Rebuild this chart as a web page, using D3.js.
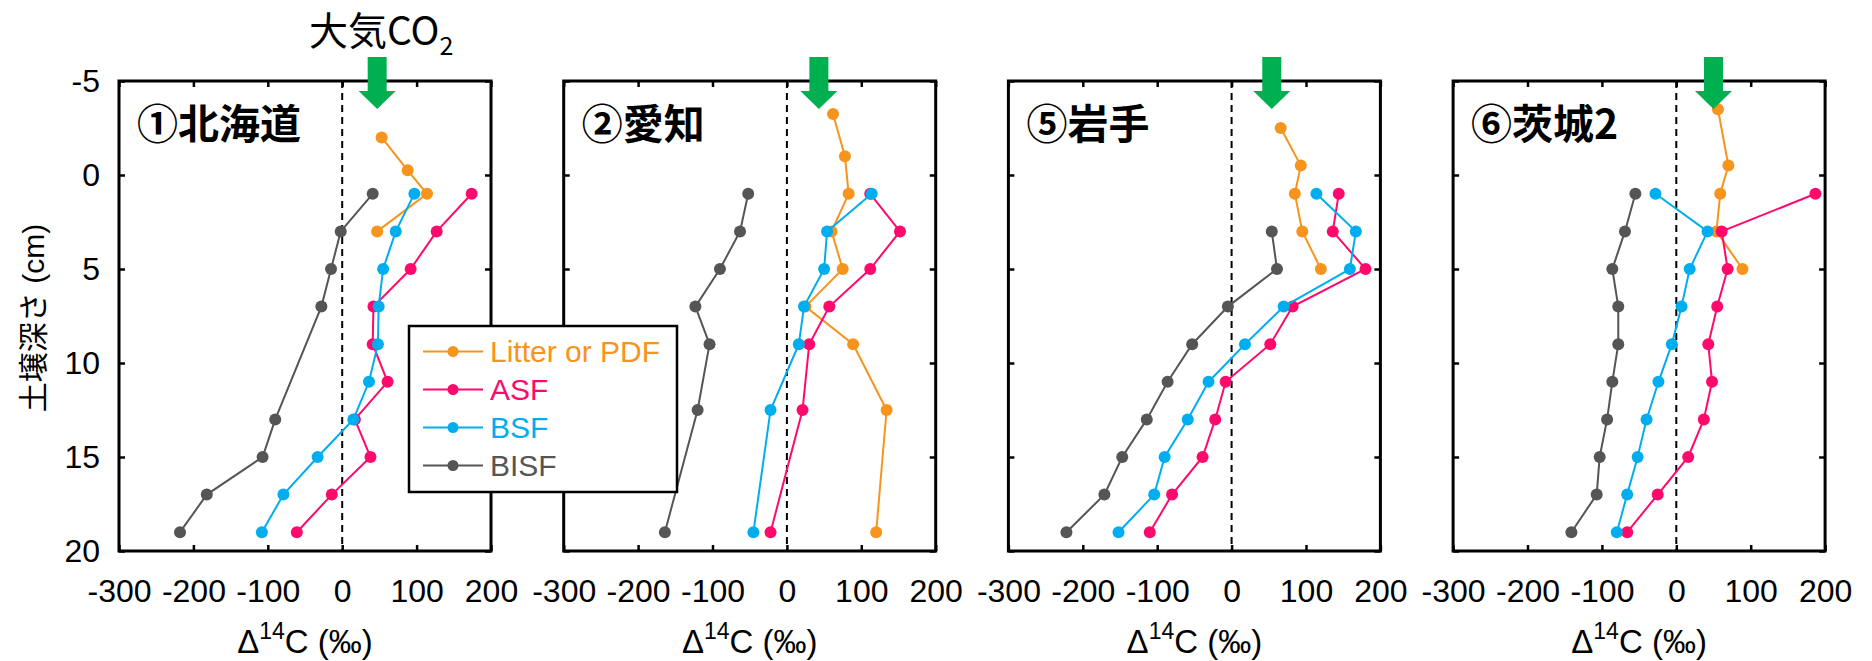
<!DOCTYPE html>
<html>
<head>
<meta charset="utf-8">
<script src="https://cdn.jsdelivr.net/npm/d3@7"></script>
<style>
  html, body { margin: 0; padding: 0; background: #fff; }
  svg { display: block; }
</style>
</head>
<body>
<svg id="chart" width="1872" height="661"></svg>
<script>
// Soil Δ14C depth profiles for four sites, by density fraction.
const sites = ["①北海道", "②愛知", "⑤岩手", "⑥茨城2"];
const atmosphereD14C = [47, 43, 54, 50];   // atmospheric CO2 Δ14C marked by the green arrow

const seriesNames = ["Litter or PDF", "ASF", "BSF", "BISF"];
const seriesColors = ["#F7941D", "#FF0A6C", "#00AEEF", "#555555"];

const xTicks = [-300, -200, -100, 0, 100, 200];
const yTicks = [-5, 0, 5, 10, 15, 20];

// Litter / particulate density fraction (depth in cm, negative = above mineral soil)
const litterDepth = [
  [-2, -0.25, 1, 3],
  [-3.25, -1, 1, 3, 5, 7, 9, 12.5, 19],
  [-2.5, -0.5, 1, 3, 5],
  [-3.5, -0.5, 1, 3, 5]
];
const litterD14C = [
  [53, 88, 114, 47],
  [62, 78, 83, 60, 75, 25, 89, 134, 120],
  [66, 93, 85, 95, 120],
  [56, 70, 59, 54, 89]
];

// Mineral soil layers sampled for ASF and BSF
const mineralDepth = [
  [1, 3, 5, 7, 9, 11, 13, 15, 17, 19],
  [1, 3, 5, 7, 9, 12.5, 19],
  [1, 3, 5, 7, 9, 11, 13, 15, 17, 19],
  [1, 3, 5, 7, 9, 11, 13, 15, 17, 19]
];
const asfD14C = [
  [174, 127, 92, 42, 41, 61, 17, 38, -14, -61],
  [112, 152, 112, 57, 30, 21, -22],
  [144, 136, 180, 82, 52, -8, -22, -39, -80, -110],
  [187, 61, 69, 55, 43, 48, 37, 16, -25, -66]
];
const bsfD14C = [
  [97, 72, 55, 49, 48, 36, 15, -33, -79, -108],
  [114, 54, 50, 23, 16, -22, -45],
  [114, 167, 159, 70, 18, -31, -59, -90, -104, -152],
  [-28, 42, 18, 7, -6, -24, -40, -52, -66, -80]
];

// BISF layers (not every layer was measured)
const bisfDepth = [
  [1, 3, 5, 7, 13, 15, 17, 19],
  [1, 3, 5, 7, 9, 12.5, 19],
  [3, 5, 7, 9, 11, 13, 15, 17, 19],
  [1, 3, 5, 7, 9, 11, 13, 15, 17, 19]
];
const bisfD14C = [
  [41, -2, -15, -28, -90, -107, -182, -218],
  [-52, -63, -90, -123, -104, -120, -164],
  [54, 61, -5, -53, -86, -114, -147, -171, -222],
  [-55, -69, -86, -78, -78, -86, -93, -103, -107, -141]
];

// ---- layout ----
const svg = d3.select("#chart");
const panelLeft0 = 119, panelStep = 444.7, panelW = 372;
const plotTop = 81, plotBottom = 551;
const latin = "'Liberation Sans', Arial, 'Noto Sans CJK JP', sans-serif";
const cjk = "'Noto Sans CJK JP', 'Liberation Sans', sans-serif";

const y = d3.scaleLinear().domain([-5, 20]).range([plotTop, plotBottom]);
const fmt = d => String(d);   // plain hyphen for negatives

sites.forEach((site, i) => {
  const left = panelLeft0 + i * panelStep;
  const x = d3.scaleLinear().domain([-300, 200]).range([left, left + panelW]);
  const g = svg.append("g");

  // zero line
  g.append("line")
    .attr("x1", x(0)).attr("x2", x(0))
    .attr("y1", plotTop).attr("y2", plotBottom)
    .attr("stroke", "#000").attr("stroke-width", 2)
    .attr("stroke-dasharray", "7,5");

  // axes with inward ticks
  const bottomAxis = d3.axisBottom(x).tickValues(xTicks).tickFormat(fmt)
    .tickSizeInner(-6).tickSizeOuter(0).tickPadding(28);
  const topAxis = d3.axisTop(x).tickValues(xTicks).tickFormat("")
    .tickSizeInner(-6).tickSizeOuter(0);
  const leftAxis = d3.axisLeft(y).tickValues(yTicks)
    .tickFormat(i === 0 ? fmt : "")
    .tickSizeInner(-6).tickSizeOuter(0).tickPadding(19);
  const rightAxis = d3.axisRight(y).tickValues(yTicks).tickFormat("")
    .tickSizeInner(-6).tickSizeOuter(0);

  const axes = [
    g.append("g").attr("transform", `translate(0,${plotBottom})`).call(bottomAxis),
    g.append("g").attr("transform", `translate(0,${plotTop})`).call(topAxis),
    g.append("g").attr("transform", `translate(${left},0)`).call(leftAxis),
    g.append("g").attr("transform", `translate(${left + panelW},0)`).call(rightAxis)
  ];
  axes.forEach(a => {
    a.select(".domain").remove();
    a.selectAll(".tick line").attr("stroke", "#000").attr("stroke-width", 2.5);
    a.selectAll(".tick text")
      .attr("fill", "#000")
      .style("font-family", latin)
      .style("font-size", "32px");
  });

  // frame
  g.append("rect")
    .attr("x", left).attr("y", plotTop)
    .attr("width", panelW).attr("height", plotBottom - plotTop)
    .attr("fill", "none").attr("stroke", "#000").attr("stroke-width", 3);

  // series
  const series = [
    { depth: litterDepth[i], val: litterD14C[i], color: seriesColors[0] },
    { depth: mineralDepth[i], val: asfD14C[i], color: seriesColors[1] },
    { depth: mineralDepth[i], val: bsfD14C[i], color: seriesColors[2] },
    { depth: bisfDepth[i], val: bisfD14C[i], color: seriesColors[3] }
  ];
  const line = d3.line().x(d => x(d[1])).y(d => y(d[0]));
  series.forEach(s => {
    const pts = s.depth.map((d, k) => [d, s.val[k]]);
    g.append("path").datum(pts)
      .attr("d", line)
      .attr("fill", "none")
      .attr("stroke", s.color)
      .attr("stroke-width", 2);
    g.selectAll(null).data(pts).enter().append("circle")
      .attr("cx", d => x(d[1])).attr("cy", d => y(d[0]))
      .attr("r", 6).attr("fill", s.color);
  });

  // site title
  g.append("text")
    .attr("x", left + 18).attr("y", plotTop + 40)
    .attr("dominant-baseline", "central")
    .style("font-family", cjk)
    .style("font-size", "41px")
    .style("font-weight", "bold")
    .attr("fill", "#000")
    .text(site);

  // atmospheric CO2 arrow
  const ax = x(atmosphereD14C[i]);
  const arrow = [
    [ax - 9.5, plotTop - 24], [ax + 9.5, plotTop - 24], [ax + 9.5, plotTop + 10],
    [ax + 18.5, plotTop + 10], [ax, plotTop + 28], [ax - 18.5, plotTop + 10],
    [ax - 9.5, plotTop + 10]
  ];
  g.append("polygon")
    .attr("points", arrow.map(p => p.join(",")).join(" "))
    .attr("fill", "#00B050");

  if (i === 0) {
    const lbl = g.append("text")
      .attr("x", ax + 4).attr("y", 45)
      .attr("text-anchor", "middle")
      .style("font-family", cjk)
      .style("font-size", "39px")
      .attr("fill", "#000");
    lbl.append("tspan").text("大気CO");
    lbl.append("tspan").attr("dy", 10).style("font-size", "25px").text("2");
  }

  // x axis title
  const xt = g.append("text")
    .attr("x", left + panelW / 2).attr("y", 653)
    .attr("text-anchor", "middle")
    .style("font-family", latin)
    .style("font-size", "33px")
    .attr("fill", "#000");
  xt.append("tspan").text("Δ");
  xt.append("tspan").attr("dy", -14).style("font-size", "23px").text("14");
  xt.append("tspan").attr("dy", 14).text("C (‰)");
});

// y axis title
svg.append("text")
  .attr("transform", "translate(33,318) rotate(-90)")
  .attr("text-anchor", "middle")
  .attr("dominant-baseline", "central")
  .style("font-family", latin)
  .style("font-size", "30px")
  .attr("fill", "#000")
  .text("土壌深さ (cm)");

// legend
const leg = svg.append("g");
leg.append("rect")
  .attr("x", 409).attr("y", 326).attr("width", 268).attr("height", 166)
  .attr("fill", "#fff").attr("stroke", "#000").attr("stroke-width", 2.5);
seriesNames.forEach((name, k) => {
  const cy = 351.5 + k * 38;
  leg.append("line")
    .attr("x1", 423).attr("x2", 483).attr("y1", cy).attr("y2", cy)
    .attr("stroke", seriesColors[k]).attr("stroke-width", 2);
  leg.append("circle").attr("cx", 453).attr("cy", cy).attr("r", 5.5)
    .attr("fill", seriesColors[k]);
  leg.append("text")
    .attr("x", 490).attr("y", cy)
    .attr("dy", "0.36em")
    .style("font-family", latin)
    .style("font-size", "30px")
    .attr("fill", seriesColors[k])
    .text(name);
});
</script>
</body>
</html>
